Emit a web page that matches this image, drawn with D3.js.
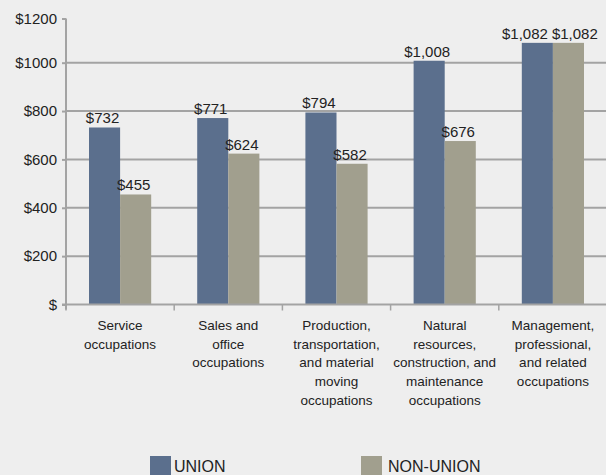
<!DOCTYPE html>
<html>
<head>
<meta charset="utf-8">
<script src="https://cdn.jsdelivr.net/npm/d3@7"></script>
<style>
  body { margin: 0; background: #eeeeee; }
  svg { display: block; }
  text { font-family: "Liberation Sans", Arial, sans-serif; fill: #222; }
</style>
</head>
<body>
<div id="chart"></div>
<script>
var width = 606,
    height = 475;

// data
var categories = [
    ["Service", "occupations"],
    ["Sales and", "office", "occupations"],
    ["Production,", "transportation,", "and material", "moving", "occupations"],
    ["Natural", "resources,", "construction, and", "maintenance", "occupations"],
    ["Management,", "professional,", "and related", "occupations"]
];
var seriesNames = ["UNION", "NON-UNION"];
var unionVals = [732, 771, 794, 1008, 1082];
var nonUnionVals = [455, 624, 582, 676, 1082];
var yTicks = [0, 200, 400, 600, 800, 1000, 1200];
var colors = ["#5b6f8d", "#a19f8e"];

var svg = d3.select("#chart").append("svg")
    .attr("width", width)
    .attr("height", height);

var x0 = d3.scaleBand()
    .domain(d3.range(categories.length))
    .range([66, 607]);

var x1 = d3.scaleBand()
    .domain(seriesNames)
    .range([0, x0.bandwidth()])
    .paddingInner(0)
    .paddingOuter(0.74);

// top interval is squeezed in the original, so the scale is piecewise
var y = d3.scaleLinear()
    .domain([0, 1100, 1200])
    .range([304.5, 38.5, 18.5]);

var fmtTick = function (v) { return v === 0 ? "$" : "$" + v; };
var fmtVal = d3.format("$,");

// gridlines
svg.append("g")
    .selectAll("line")
    .data(yTicks.filter(function (d) { return d > 0 && d < 1200; }))
    .enter()
    .append("line")
    .attr("x1", 66)
    .attr("x2", width)
    .attr("y1", function (d) { return y(d); })
    .attr("y2", function (d) { return y(d); })
    .style("stroke", "#a3a3a3")
    .style("stroke-width", 2);

// y axis
var yAxis = svg.append("g")
    .attr("transform", "translate(66,0)")
    .call(d3.axisLeft(y).tickValues(yTicks).tickFormat(fmtTick).tickSize(4).tickPadding(5));
yAxis.select(".domain").remove();
yAxis.selectAll(".tick line").style("stroke", "#a3a3a3").style("stroke-width", 2);
yAxis.selectAll(".tick text")
    .style("font-size", "15px")
    .style("fill", "#222")
    .attr("font-family", null);
yAxis.append("line")
    .attr("x1", 0).attr("x2", 0)
    .attr("y1", y(1200)).attr("y2", y(0) + 5)
    .style("stroke", "#a3a3a3")
    .style("stroke-width", 2);

// bars
var groups = svg.append("g")
    .selectAll("g")
    .data(categories.map(function (c, i) {
        return {i: i, vals: [unionVals[i], nonUnionVals[i]]};
    }))
    .enter()
    .append("g")
    .attr("transform", function (d) { return "translate(" + x0(d.i) + ",0)"; });

groups.selectAll("rect")
    .data(function (d) { return d.vals.map(function (v, k) { return {k: k, v: v}; }); })
    .enter()
    .append("rect")
    .attr("x", function (d) { return x1(seriesNames[d.k]); })
    .attr("width", x1.bandwidth())
    .attr("y", function (d) { return y(d.v); })
    .attr("height", function (d) { return y(0) - y(d.v); })
    .style("fill", function (d) { return colors[d.k]; });

// value labels; when both labels of a group sit at the same height they are pushed apart
var valLabels = groups.selectAll("text.val")
    .data(function (d) { return d.vals.map(function (v, k) { return {k: k, v: v, other: d.vals[1 - k]}; }); })
    .enter()
    .append("text")
    .attr("class", "val")
    .attr("y", function (d) { return y(d.v) - 4; })
    .attr("text-anchor", "middle")
    .style("font-size", "15px")
    .text(function (d) { return fmtVal(d.v); });

valLabels.attr("x", function (d) {
    var cx = x1(seriesNames[d.k]) + x1.bandwidth() / 2 - 2;
    if (Math.abs(y(d.v) - y(d.other)) < 16) {
        var w = this.getComputedTextLength();
        var mid = x0.bandwidth() / 2 - 3;
        cx = d.k === 0 ? mid - 2 - w / 2 : mid + 2 + w / 2;
    }
    return cx;
});

// x axis
svg.append("line")
    .attr("x1", 62).attr("x2", width)
    .attr("y1", y(0)).attr("y2", y(0))
    .style("stroke", "#a3a3a3")
    .style("stroke-width", 2);

svg.append("g")
    .selectAll("line")
    .data(d3.range(categories.length + 1))
    .enter()
    .append("line")
    .attr("x1", function (i) { return i < categories.length ? x0(i) : x0(i - 1) + x0.bandwidth(); })
    .attr("x2", function (i) { return i < categories.length ? x0(i) : x0(i - 1) + x0.bandwidth(); })
    .attr("y1", y(0))
    .attr("y2", y(0) + 6)
    .style("stroke", "#a3a3a3")
    .style("stroke-width", 1.5);

// category labels
var labels = svg.append("g")
    .selectAll("text")
    .data(categories)
    .enter()
    .append("text")
    .attr("text-anchor", "middle")
    .style("font-size", "13.5px")
    .attr("transform", function (d, i) { return "translate(" + (x0(i) + x0.bandwidth() / 2) + ",330)"; });

labels.selectAll("tspan")
    .data(function (d) { return d; })
    .enter()
    .append("tspan")
    .attr("x", 0)
    .attr("y", function (d, j) { return j * 18.7; })
    .text(function (d) { return d; });

// legend
var legendX = [150, 361];
var legend = svg.append("g")
    .selectAll("g")
    .data(seriesNames)
    .enter()
    .append("g")
    .attr("transform", function (d, i) { return "translate(" + legendX[i] + ",456)"; });

legend.append("rect")
    .attr("width", 21)
    .attr("height", 21)
    .style("fill", function (d, i) { return colors[i]; });

legend.append("text")
    .attr("x", function (d, i) { return i === 0 ? 24 : 27; })
    .attr("y", 15.5)
    .style("font-size", "16px")
    .text(function (d) { return d; });
</script>
</body>
</html>
